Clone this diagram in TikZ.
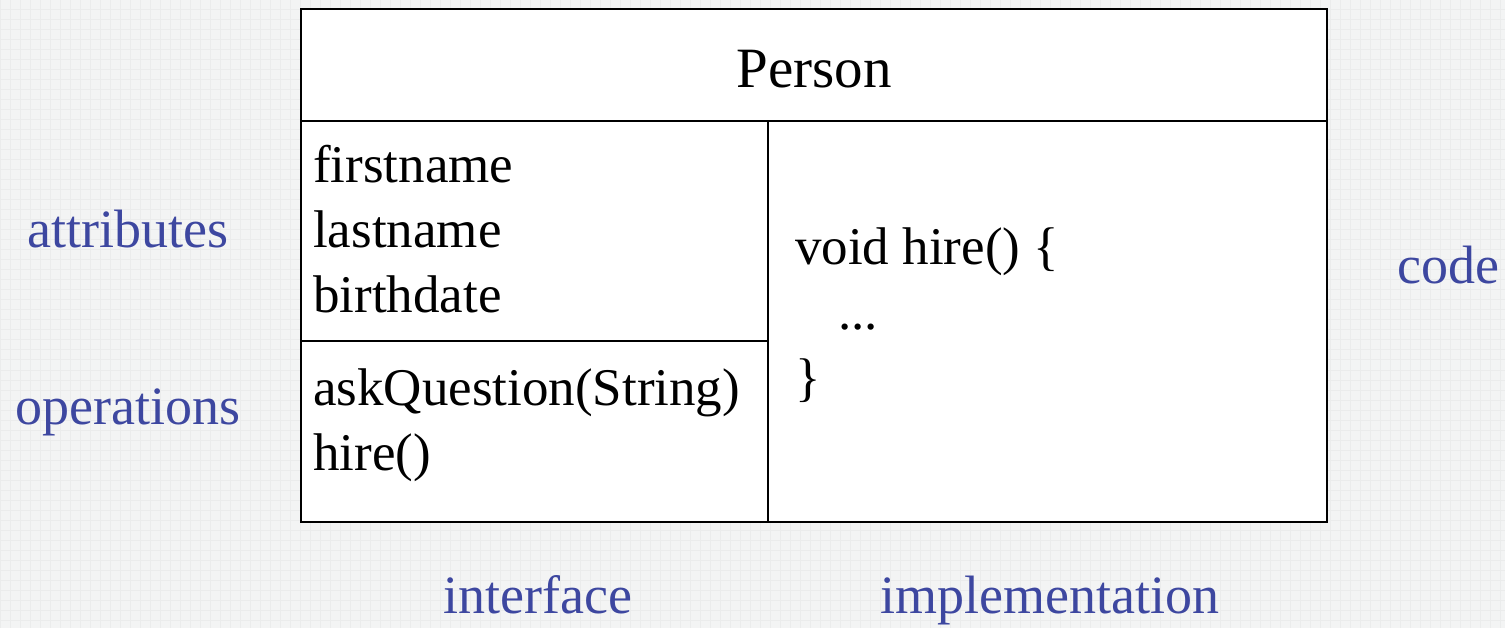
\documentclass[tikz,border=0pt]{standalone}
\usepackage{fontspec}
\setmainfont{Liberation Serif}
\definecolor{labelblue}{RGB}{61,71,160}
\definecolor{paper}{RGB}{243,244,244}
\definecolor{gridline}{RGB}{235,236,236}
\begin{document}
\begin{tikzpicture}[x=1pt,y=-1pt,
box/.style = {% class outline
    draw=black, line width=2.8pt,
            },
mem/.style = {% member text
    anchor=base west, inner sep=0pt, font=\fontsize{53}{65}\selectfont,
            },
lbl/.style = {% blue side labels
    anchor=base west, inner sep=0pt, text=labelblue,
    font=\fontsize{54}{65}\selectfont,
            },                        ]

  \useasboundingbox (0,0) rectangle (1505,628);
  \fill[paper] (0,0) rectangle (1505,628);
  \foreach \x in {0,10,...,1500}
    \draw[gridline, line width=1pt] (\x,0) -- (\x,628);
  \foreach \y in {0,10,...,620}
    \draw[gridline, line width=1pt] (0,\y) -- (1505,\y);

  % class box
  \draw[box, fill=white] (301,9) rectangle (1327,522);
  \draw[box] (301,121) -- (1327,121);
  \draw[box] (768,121) -- (768,522);
  \draw[box] (301,341) -- (768,341);

  \node[anchor=base, inner sep=0pt, font=\fontsize{57}{68}\selectfont]
      (title) at (814,88) {Person};

  % attributes and operations
  \node[mem] (first) at (313,183) {firstname};
  \node[mem] (last)  at (313,248) {lastname};
  \node[mem] (birth) at (313,313) {birthdate};
  \node[mem] (ask)   at (313,405) {askQuestion(String)};
  \node[mem] (hire)  at (313,470) {hire()};

  % method body
  \node[mem] (head) at (795,265) {void hire() \{};
  \node[mem] (dots) at (838,330) {...};
  \node[mem] (tail) at (795,395) {\}};

  % side labels
  \node[lbl] (attrlbl) at (27,248)   {attributes};
  \node[lbl] (oplbl)   at (15,424)   {operations};
  \node[lbl] (codelbl) at (1397,284) {code};
  \node[lbl] (intlbl)  at (443,613)  {interface};
  \node[lbl] (implbl)  at (880,613)  {implementation};

\end{tikzpicture}
\end{document}
